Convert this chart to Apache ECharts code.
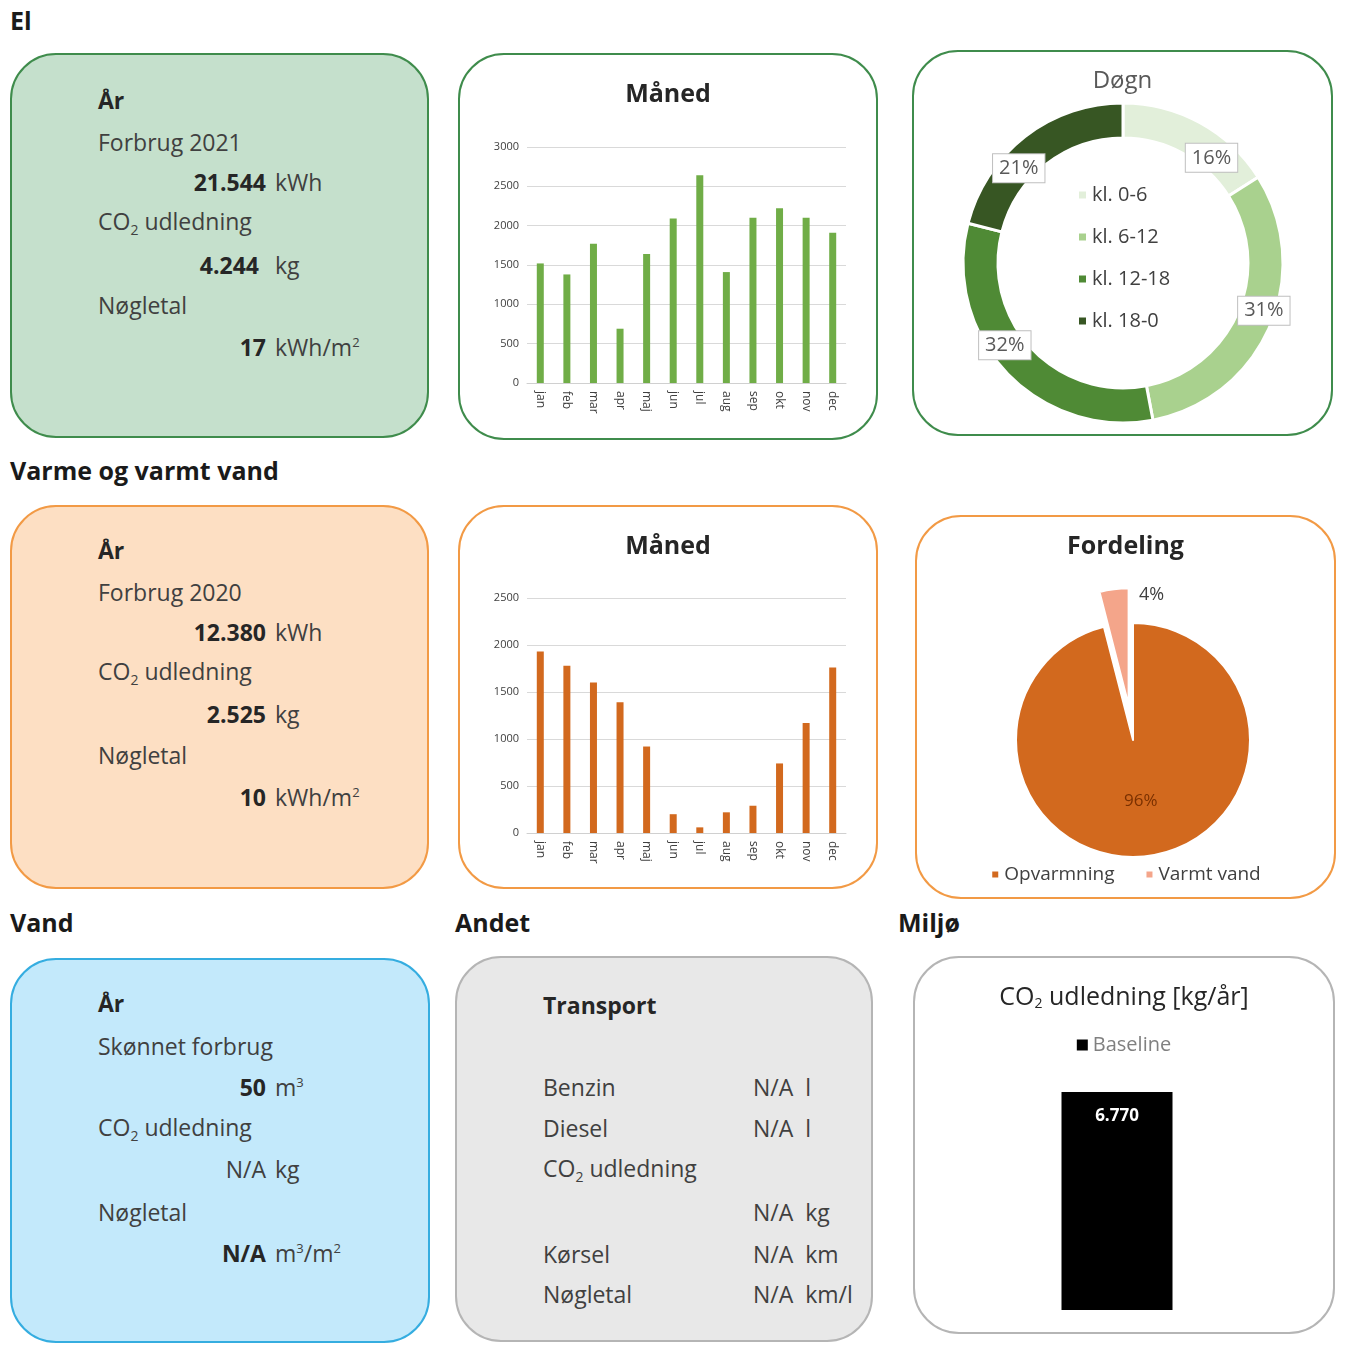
<!DOCTYPE html>
<html><head><meta charset="utf-8">
<script src="https://cdn.jsdelivr.net/npm/echarts@6/dist/echarts.min.js"></script>
<style>
body{margin:0;width:1352px;height:1348px;background:#fff;font-family:"Open Sans",sans-serif;position:relative;overflow:hidden}
.t{position:absolute;white-space:nowrap;transform:translateY(-50%);color:#404040;font-size:23px}
.b{font-weight:bold;color:#262626}
.h{position:absolute;font-weight:bold;font-size:25px;color:#1a1a1a;transform:translateY(-50%)}
.box{position:absolute;box-sizing:border-box;border-radius:46px;border:2.5px solid}
.ch{position:absolute}
</style></head><body>
<script>
const months=['jan','feb','mar','apr','maj','jun','jul','aug','sep','okt','nov','dec'];
const elMonthly=[1520,1380,1770,690,1640,2090,2640,1410,2100,2220,2100,1910];
const heatMonthly=[1930,1780,1600,1390,920,200,60,220,290,740,1170,1760];
const dayNames=['kl. 0-6','kl. 6-12','kl. 12-18','kl. 18-0'];
const dayShares=[16,31,32,21];
const splitNames=['Opvarmning','Varmt vand'];
const splitShares=[96,4];
const co2Names=['Baseline'];
const co2Values=[6770];

function el(cls,css,html){const d=document.createElement('div');d.className=cls;Object.assign(d.style,css);if(html!==undefined)d.innerHTML=html;document.body.appendChild(d);return d;}
function box(x,y,w,h,fill,border){el('box',{left:x+'px',top:y+'px',width:w+'px',height:h+'px',background:fill,borderColor:border});}
function T(x,y,s,bold){el('t'+(bold?' b':''),{left:x+'px',top:y+'px'},s);}
function R(x,y,s,nb){el('t'+(nb?'':' b'),{right:(1352-x)+'px',top:y+'px'},s);}
function H(x,y,s){el('h',{left:x+'px',top:y+'px'},s);}
const co2='CO<sub style="font-size:14px">2</sub> udledning';

H(10,20,'El');H(10,470,'Varme og varmt vand');H(10,922,'Vand');H(455,922,'Andet');H(898,922,'Miljø');
box(10,53,419,385,'#c5e0cc','#3f8c4c');box(458,53,420,387,'#fff','#3f8c4c');box(912,50,421,386,'#fff','#3f8c4c');
box(10,505,419,384,'#fddfc3','#f29a45');box(458,505,420,384,'#fff','#f29a45');box(915,515,421,384,'#fff','#f29a45');
box(10,958,420,385,'#c3e9fb','#35ade0');box(455,956,418,386,'#e8e8e8','#b5b5b5');box(913,956,422,378,'#fff','#b5b5b5');

T(98,100,'År',true);T(98,142,'Forbrug 2021');R(266,182,'21.544');T(275,182,'kWh');T(98,222,co2);R(259,265,'4.244');T(275,265,'kg');T(98,305,'Nøgletal');R(266,347,'17');T(275,347,'kWh/m<sup style="font-size:13px">2</sup>');
T(98,550,'År',true);T(98,592,'Forbrug 2020');R(266,632,'12.380');T(275,632,'kWh');T(98,672,co2);R(266,714,'2.525');T(275,714,'kg');T(98,755,'Nøgletal');R(266,797,'10');T(275,797,'kWh/m<sup style="font-size:13px">2</sup>');
T(98,1003,'År',true);T(98,1046,'Skønnet forbrug');R(266,1087,'50');T(275,1087,'m<sup style="font-size:13px">3</sup>');T(98,1128,co2);R(266,1169,'N/A',true);T(275,1169,'kg');T(98,1212,'Nøgletal');R(266,1253,'N/A');T(275,1253,'m<sup style="font-size:13px">3</sup>/m<sup style="font-size:13px">2</sup>');
T(543,1005,'Transport',true);T(543,1087,'Benzin');T(753,1087,'N/A&nbsp; l');T(543,1128,'Diesel');T(753,1128,'N/A&nbsp; l');T(543,1169,co2);T(753,1212,'N/A&nbsp; kg');T(543,1254,'Kørsel');T(753,1254,'N/A&nbsp; km');T(543,1294,'Nøgletal');T(753,1294,'N/A&nbsp; km/l');

function chart(x,y,w,h,opt){const d=el('ch',{left:x+'px',top:y+'px',width:w+'px',height:h+'px'});const c=echarts.init(d,null,{renderer:'canvas'});c.setOption(opt);}
const F='"Open Sans",sans-serif';
function barOpt(title,data,color,max,interval,top,bottom){return{animation:false,
 title:{text:title,left:'center',top:24,textStyle:{fontFamily:F,fontSize:25,fontWeight:'bold',color:'#262626'}},
 grid:{left:69,right:32,top:top,bottom:bottom},
 xAxis:{type:'category',data:months,axisTick:{show:false},axisLine:{lineStyle:{color:'#d0d0d0'}},axisLabel:{rotate:-90,fontSize:12,color:'#404040',fontFamily:F}},
 yAxis:{type:'value',min:0,max:max,interval:interval,axisLabel:{fontSize:11,color:'#404040',fontFamily:F,formatter:v=>String(v)},splitLine:{lineStyle:{color:'#d9d9d9'}}},
 series:[{type:'bar',data:data,barWidth:7,itemStyle:{color:color}}]};}
chart(458,53,420,387,barOpt('Måned',elMonthly,'#70ad47',3000,500,94,57));
chart(458,505,420,384,barOpt('Måned',heatMonthly,'#d2691e',2500,500,93,56));

const dayColors=['#e2efda','#a9d18e','#4f8a35','#375623'];
chart(912,50,421,386,{animation:false,
 title:{text:'Døgn',left:'center',top:14,textStyle:{fontFamily:F,fontSize:24,fontWeight:'normal',color:'#595959'}},
 legend:{orient:'vertical',left:160,top:130,itemGap:22,itemWidth:9,itemHeight:9,icon:'rect',textStyle:{fontFamily:F,fontSize:20,color:'#404040'},data:dayNames},
 series:[{type:'pie',center:[211,213],radius:[125,160],startAngle:90,clockwise:true,
  data:dayNames.map((n,i)=>({name:n,value:dayShares[i],itemStyle:{color:dayColors[i]}})),
  itemStyle:{borderColor:'#fff',borderWidth:3},
  label:{position:'outside',formatter:'{c}%',fontFamily:F,fontSize:20,color:'#595959',backgroundColor:'#fff',borderColor:'#bfbfbf',borderWidth:1,padding:[4,6]},
  labelLine:{show:false,length:-40,length2:0}}]});

chart(915,515,421,384,{animation:false,
 title:[{text:'Fordeling',left:'center',top:14,textStyle:{fontFamily:F,fontSize:25,fontWeight:'bold',color:'#262626'}},
  {text:splitShares[1]+'%',left:219,top:66,textStyle:{fontFamily:F,fontSize:18,fontWeight:'normal',color:'#404040'}}],
 legend:{bottom:10,left:'center',itemWidth:8,itemHeight:8,icon:'rect',itemGap:30,textStyle:{fontFamily:F,fontSize:19,color:'#404040'},data:splitNames},
 series:[{type:'pie',center:[218,225],radius:[0,117],startAngle:90,selectedMode:'single',selectedOffset:35,
  data:splitNames.map((n,i)=>({name:n,value:splitShares[i],selected:i===1,itemStyle:{color:['#d2691e','#f4a58a'][i]},
   label:i===0?{position:'inner',fontSize:17,color:'#7a3000'}:{show:false}})),
  itemStyle:{borderColor:'#fff',borderWidth:2},
  label:{formatter:'{c}%',fontFamily:F},labelLine:{show:false,length:0,length2:0}}]});

chart(913,956,422,378,{animation:false,
 title:{text:'CO{s|2} udledning [kg/år]',left:'center',top:24,textStyle:{fontFamily:F,fontSize:25,fontWeight:'normal',color:'#262626',rich:{s:{fontSize:14,verticalAlign:'bottom',padding:[12,0,0,0]}}}},
 legend:{top:74,left:'center',icon:'rect',itemWidth:11,itemHeight:11,textStyle:{fontFamily:F,fontSize:20,color:'#808080'},data:co2Names},
 grid:{left:148,right:162,top:136,bottom:24},
 xAxis:{type:'category',data:['x'],show:false},
 yAxis:{type:'value',min:0,max:6770,show:false},
 series:[{name:'Baseline',type:'bar',data:co2Values,barWidth:111,itemStyle:{color:'#000'},
  label:{show:true,position:'insideTop',distance:16,formatter:p=>p.value.toLocaleString('da-DK'),color:'#fff',fontWeight:'bold',fontSize:17,fontFamily:F}}]});
</script>
</body></html>
